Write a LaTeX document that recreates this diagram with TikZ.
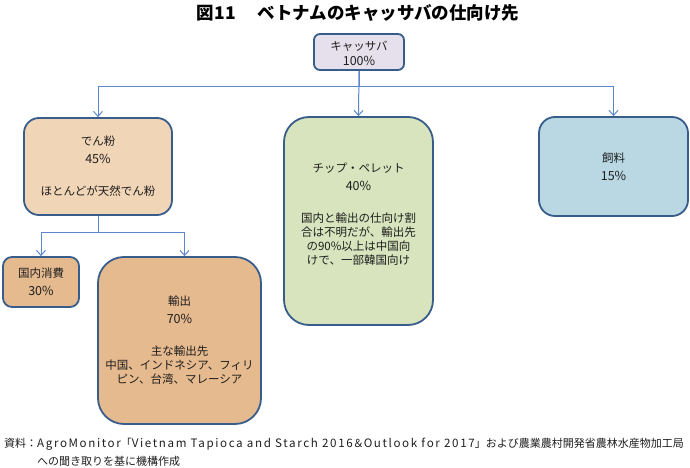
\documentclass[tikz,border=0pt]{standalone}
\usepackage{fontspec}
\setmainfont{Noto Sans CJK JP}
\newfontfamily\widelatin{Noto Sans CJK JP}[LetterSpace=14]
\usepackage{tikz}
\usetikzlibrary{arrows.meta}
\definecolor{boxline}{RGB}{56, 93, 138}
\definecolor{connblue}{RGB}{91, 134, 205}
\definecolor{txtgray}{RGB}{30, 30, 30}
\definecolor{rootfill}{RGB}{229, 224, 236}
\definecolor{starchfill}{RGB}{241, 213, 183}
\definecolor{exportfill}{RGB}{230, 186, 143}
\definecolor{chipfill}{RGB}{215, 228, 189}
\definecolor{feedfill}{RGB}{185, 216, 228}
\tikzset{>={Straight Barb[length=5pt, width=9pt]}}
\tikzset{
  box/.style = {draw = boxline, line width = 1.8pt, align = center, text = txtgray,
                font = \fontsize{11.5}{14}\selectfont, inner sep = 0pt},
  conn/.style = {connblue, line width = 1pt, ->}
}
\newcommand{\pct}[1]{{\fontsize{12.5}{14}\selectfont #1\%}}
\newcommand{\srclatin}[1]{{\widelatin\fontsize{11.6}{18}\selectfont #1}}

\begin{document}
\begin{tikzpicture}[x = 1pt, y = -1pt]
\useasboundingbox (0,0) rectangle (690,468);
\node[font = \fontsize{17.5}{18}\bfseries] (title) at (358, 13) {図11\hspace{22pt}ベトナムのキャッサバの仕向け先};
\node[box, fill = rootfill, rounded corners = 6pt, minimum width = 90pt, minimum height = 36pt] (root) at (359, 52) {\mbox{}\\[-1pt]キャッサバ\\[1pt]\pct{100}};
\node[box, fill = starchfill, rounded corners = 15pt, minimum width = 148pt, minimum height = 97pt] (starch) at (98, 166.5) {でん粉\\[4pt]\pct{45}\\[18pt]ほとんどが天然でん粉};
\node[box, fill = exportfill, rounded corners = 9pt, minimum width = 76pt, minimum height = 50pt] (home) at (41, 282) {国内消費\\[4pt]\pct{30}};
\node[box, fill = exportfill, rounded corners = 26pt, minimum width = 163pt, minimum height = 167pt] (export) at (179.5, 340.5) {輸出\\[4pt]\pct{70}\\[18pt]主な輸出先\\中国、インドネシア、フィリ\\ピン、台湾、マレーシア};
\node[box, fill = chipfill, rounded corners = 25pt, minimum width = 149pt, minimum height = 208pt] (chip) at (358.5, 221) {チップ・ペレット\\[4pt]\pct{40}\\[18pt]国内と輸出の仕向け割\\合は不明だが、輸出先\\の90\%以上は中国向\\けで、一部韓国向け\\[1pt]};
\node[box, fill = feedfill, rounded corners = 16pt, minimum width = 149pt, minimum height = 99pt] (feed) at (613.5, 166.5) {飼料\\[4pt]\pct{15}};
% connectors
\draw[conn] (root.south) -- ++(0,16) -| (starch.north);
\draw[conn] (root.south) -- (chip.north);
\draw[conn] (root.south) -- ++(0,16) -| (feed.north);
\draw[conn] (starch.south) -- ++(0,17) -| (home.north);
\draw[conn] (starch.south) -- ++(0,17) -| ([xshift = 5pt]export.north);
% source
\node[anchor = north west, align = left, inner sep = 0pt, text = txtgray, font = \fontsize{11}{18}\selectfont] (source) at (4, 438)
  {資料：\srclatin{AgroMonitor}「\srclatin{Vietnam Tapioca and Starch 2016}＆\srclatin{Outlook for 2017}」および農業農村開発省農林水産物加工局\\
   \hspace*{3em}への聞き取りを基に機構作成};
\end{tikzpicture}
\end{document}
